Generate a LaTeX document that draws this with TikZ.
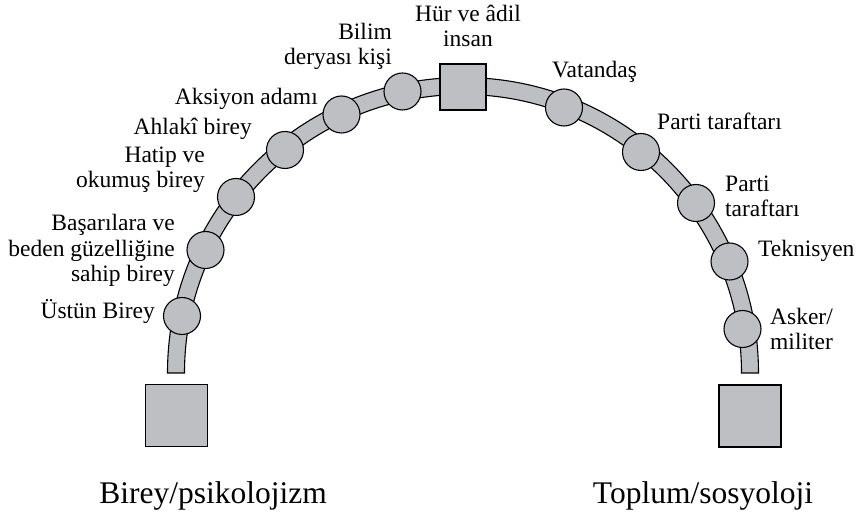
\documentclass[tikz,border=0pt]{standalone}
\usepackage{fontspec}
\setmainfont{Liberation Serif}
\definecolor{bandgray}{RGB}{190,191,194}
\begin{document}
\begin{tikzpicture}[x=1pt,y=1pt,
  grayshape/.style={draw=black,line width=1.1pt,fill=bandgray},
  ball/.style={grayshape,circle,minimum size=37pt,inner sep=0pt},
  box/.style={grayshape,rectangle,inner sep=0pt},
  lbl/.style={inner sep=0pt,font=\fontsize{23.5}{25.5}\selectfont},
  big/.style={inner sep=0pt,font=\fontsize{31.5}{34}\selectfont}]
\useasboundingbox (0,0) rectangle (863,514);
\coordinate (c) at (463,141);
% arch band
\draw[grayshape,line join=miter] (167.5,141) arc[start angle=180,end angle=0,radius=295.5pt]
  -- (741.5,141) arc[start angle=0,end angle=180,radius=278.5pt] -- cycle;
% squares
\node[box,minimum size=46pt] (top) at (463,427) {};
\node[box,minimum size=62pt] (left) at (176.5,98.5) {};
\node[box,minimum size=62pt] (right) at (750,98) {};
% circles
\node[ball] (c1) at (182,198) {};
\node[ball] (c2) at (205.5,264) {};
\node[ball] (c3) at (236,317) {};
\node[ball] (c4) at (285,364) {};
\node[ball] (c5) at (341.5,399.5) {};
\node[ball] (c6) at (402.5,422.5) {};
\node[ball] (c7) at (564,406.5) {};
\node[ball] (c8) at (641,362) {};
\node[ball] (c9) at (696,311) {};
\node[ball] (c10) at (729.5,252.5) {};
\node[ball] (c11) at (742.5,185) {};
% labels (multi-line: anchor on last line's baseline)
\node[lbl,anchor=base east] (l1) at (155,195) {Üstün Birey};
\node[lbl,anchor=base east,align=right] (l2) at (175,232) {Başarılara ve\\beden güzelliğine\\sahip birey};
\node[lbl,anchor=base east,align=right] (l3) at (205,326) {Hatip ve\\okumuş birey};
\node[lbl,anchor=base east] (l4) at (252,379) {Ahlakî birey};
\node[lbl,anchor=base east] (l5) at (318,409) {Aksiyon adamı};
\node[lbl,anchor=base east,align=right] (l6) at (392,449) {Bilim\\deryası kişi};
\node[lbl,anchor=base,align=center] (l7) at (468,467) {Hür ve âdil\\insan};
\node[lbl,anchor=base west] (l8) at (552,436) {Vatandaş};
\node[lbl,anchor=base west] (l9) at (657,384) {Parti taraftarı};
\node[lbl,anchor=base west,align=left] (l10) at (725,297) {Parti\\taraftarı};
\node[lbl,anchor=base west] (l11) at (758,257) {Teknisyen};
\node[lbl,anchor=base west,align=left] (l12) at (770,164) {Asker/\\militer};
\node[big,anchor=base] (b1) at (213,10) {Birey/psikolojizm};
\node[big,anchor=base] (b2) at (703,10) {Toplum/sosyoloji};
\end{tikzpicture}
\end{document}
